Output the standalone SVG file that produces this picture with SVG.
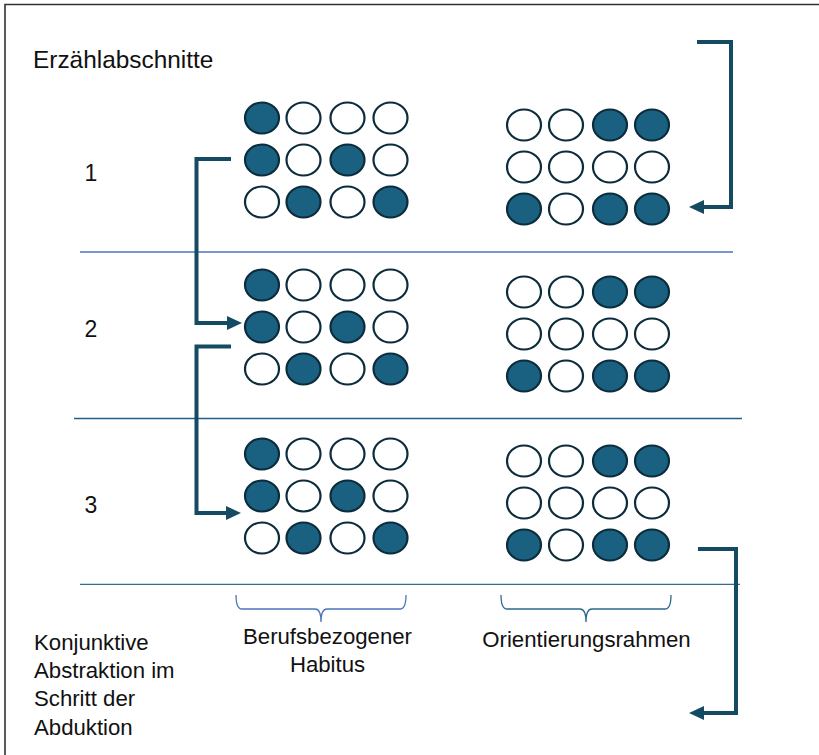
<svg xmlns="http://www.w3.org/2000/svg" width="819" height="755" viewBox="0 0 819 755">
<style>
text{font-family:"Liberation Sans",Arial,sans-serif;fill:#111}
.f{fill:#1a6080;stroke:#0c2c3c;stroke-width:2.2}
.o{fill:#fff;stroke:#0c2c3c;stroke-width:2.2}
.c{fill:none;stroke:#154a63;stroke-width:4}
.b1{fill:none;stroke:#4a74bc;stroke-width:1.3}
.b2{fill:none;stroke:#2a6a8e;stroke-width:1.3}
.t{font-size:22.2px}
</style>
<defs>
<marker id="ah" markerUnits="userSpaceOnUse" markerWidth="15" markerHeight="14" viewBox="0 0 15 14" refX="0" refY="7" orient="auto">
<path d="M0,0 L15,7 L0,14 z" fill="#154a63"/>
</marker>
<g id="L">
<ellipse class="f" cx="0" cy="0" rx="17" ry="15.5"/><ellipse class="o" cx="41.5" cy="0" rx="17" ry="15.5"/><ellipse class="o" cx="85.5" cy="0" rx="17" ry="15.5"/><ellipse class="o" cx="128.5" cy="0" rx="17" ry="15.5"/>
<ellipse class="f" cx="0" cy="42" rx="17" ry="15.5"/><ellipse class="o" cx="41.5" cy="42" rx="17" ry="15.5"/><ellipse class="f" cx="85.5" cy="42" rx="17" ry="15.5"/><ellipse class="o" cx="128.5" cy="42" rx="17" ry="15.5"/>
<ellipse class="o" cx="0" cy="84" rx="17" ry="15.5"/><ellipse class="f" cx="41.5" cy="84" rx="17" ry="15.5"/><ellipse class="o" cx="85.5" cy="84" rx="17" ry="15.5"/><ellipse class="f" cx="128.5" cy="84" rx="17" ry="15.5"/>
</g>
<g id="R">
<ellipse class="o" cx="0" cy="0" rx="17" ry="15.5"/><ellipse class="o" cx="42" cy="0" rx="17" ry="15.5"/><ellipse class="f" cx="86" cy="0" rx="17" ry="15.5"/><ellipse class="f" cx="128" cy="0" rx="17" ry="15.5"/>
<ellipse class="o" cx="0" cy="42" rx="17" ry="15.5"/><ellipse class="o" cx="42" cy="42" rx="17" ry="15.5"/><ellipse class="o" cx="86" cy="42" rx="17" ry="15.5"/><ellipse class="o" cx="128" cy="42" rx="17" ry="15.5"/>
<ellipse class="f" cx="0" cy="84" rx="17" ry="15.5"/><ellipse class="o" cx="42" cy="84" rx="17" ry="15.5"/><ellipse class="f" cx="86" cy="84" rx="17" ry="15.5"/><ellipse class="f" cx="128" cy="84" rx="17" ry="15.5"/>
</g>
</defs>
<rect width="819" height="755" fill="#fff"/>
<path d="M5,760 V4.5 H830" fill="none" stroke="#333" stroke-width="1.6"/>

<g id="separators">
<line x1="80" y1="252" x2="733" y2="252" stroke="#4a74bc" stroke-width="1.4"/>
<line x1="74" y1="418.5" x2="742" y2="418.5" stroke="#1f6088" stroke-width="1.4"/>
<line x1="80" y1="584.3" x2="740" y2="584.3" stroke="#2f6f91" stroke-width="1.3"/>
</g>

<g id="title"><text x="33" y="68" font-size="24.4">Erzählabschnitte</text></g>
<g id="num1"><text x="91" y="181" font-size="23" text-anchor="middle">1</text></g>
<g id="num2"><text x="91" y="337" font-size="23" text-anchor="middle">2</text></g>
<g id="num3"><text x="91" y="513" font-size="23" text-anchor="middle">3</text></g>

<g id="habitus1"><use href="#L" x="262" y="118"/></g>
<g id="rahmen1"><use href="#R" x="524" y="125"/></g>
<g id="habitus2"><use href="#L" x="262" y="285"/></g>
<g id="rahmen2"><use href="#R" x="524" y="292"/></g>
<g id="habitus3"><use href="#L" x="262" y="454"/></g>
<g id="rahmen3"><use href="#R" x="524" y="461"/></g>

<g id="connectors">
<path class="c" d="M697,42 H731 V207 H704" marker-end="url(#ah)"/>
<path class="c" d="M231,159 H196.5 V323 H227" marker-end="url(#ah)"/>
<path class="c" d="M231,346.5 H196.5 V513 H226" marker-end="url(#ah)"/>
<path class="c" d="M698,549 H736 V713 H704" marker-end="url(#ah)"/>
</g>

<g id="brace-habitus">
<path class="b1" d="M236,595 Q236,609 242,609 H315 Q321,609 321,622 Q321,609 327,609 H400 Q406,609 406,595"/>
<text class="t" x="327.5" y="644" text-anchor="middle">Berufsbezogener</text>
<text class="t" x="327.5" y="672" text-anchor="middle">Habitus</text>
</g>
<g id="brace-rahmen">
<path class="b2" d="M501,595 Q501,609 507,609 H580 Q586,609 586,622 Q586,609 592,609 H665 Q671,609 671,595"/>
<text class="t" x="586.5" y="647" text-anchor="middle">Orientierungsrahmen</text>
</g>
<g id="abstraktion">
<text class="t" x="34" y="650">Konjunktive</text>
<text class="t" x="34" y="678">Abstraktion im</text>
<text class="t" x="34" y="706">Schritt der</text>
<text class="t" x="34" y="735">Abduktion</text>
</g>
</svg>
